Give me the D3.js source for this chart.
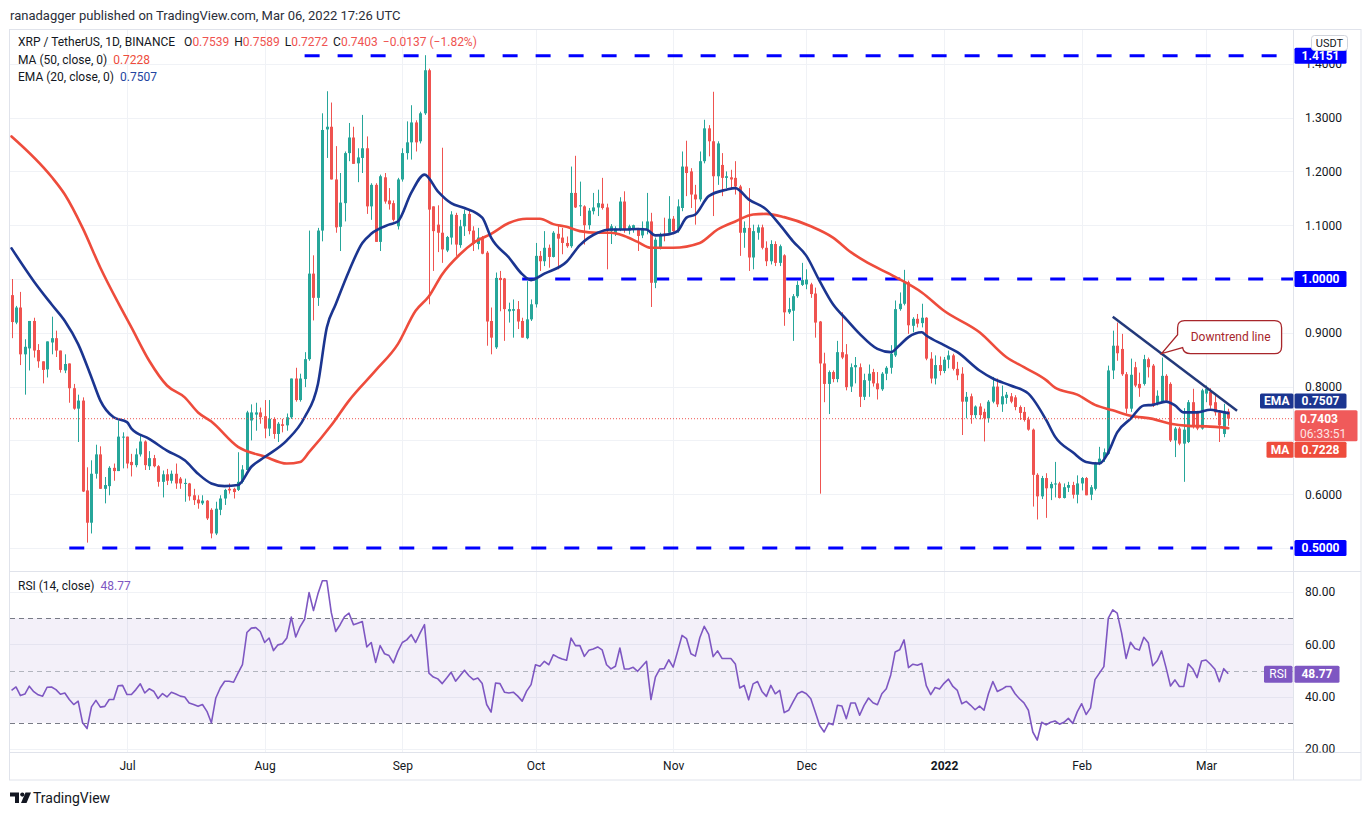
<!DOCTYPE html>
<html>
<head>
<meta charset="utf-8">
<script src="https://cdn.jsdelivr.net/npm/d3@7"></script>
<style>
body{margin:0;background:#fff;}
svg text{font-family:Roboto,"Liberation Sans",sans-serif;}
</style>
</head>
<body>
<svg id="chart" width="1371" height="815"></svg>
<script>
// ---- data (XRP/USDT daily, from 2021-06-05) ----
var startDay = "2021-06-05";
var opens = [0.97,0.919,0.947,0.86,0.871,0.922,0.868,0.847,0.832,0.882,
0.89,0.867,0.83,0.843,0.797,0.759,0.774,0.607,0.547,0.638,
0.674,0.61,0.615,0.649,0.643,0.706,0.707,0.66,0.654,0.674,
0.698,0.652,0.667,0.652,0.623,0.637,0.625,0.638,0.629,0.619,
0.62,0.598,0.59,0.583,0.588,0.571,0.527,0.571,0.592,0.61,
0.61,0.608,0.623,0.645,0.737,0.748,0.752,0.745,0.722,0.74,
0.712,0.73,0.728,0.743,0.815,0.775,0.814,0.851,1.01,0.965,
1.09,1.278,1.283,1.185,1.097,1.141,1.234,1.263,1.215,1.225,
1.243,1.135,1.175,1.069,1.189,1.146,1.141,1.098,1.185,1.234,
1.254,1.291,1.256,1.308,1.388,1.135,1.101,1.086,1.053,1.077,
1.119,1.063,1.098,1.121,1.09,1.065,1.078,1.049,0.922,0.873,
1.002,1.001,0.94,0.941,0.944,0.922,0.89,0.925,0.953,1.043,
1.033,1.058,1.041,1.084,1.077,1.067,1.061,1.16,1.135,1.135,
1.1,1.126,1.133,1.14,1.133,1.089,1.084,1.092,1.144,1.09,
1.092,1.092,1.081,1.092,1.107,0.993,1.058,1.084,1.086,1.112,
1.089,1.132,1.209,1.2,1.157,1.148,1.219,1.28,1.256,1.191,
1.212,1.188,1.189,1.188,1.172,1.086,1.095,1.04,1.086,1.096,
1.058,1.033,1.065,1.03,1.044,0.938,0.941,0.968,0.989,0.99,
0.99,0.973,0.921,0.843,0.805,0.827,0.814,0.864,0.86,0.8,
0.836,0.836,0.781,0.811,0.827,0.806,0.795,0.824,0.835,0.858,
0.944,0.954,0.994,0.913,0.926,0.918,0.928,0.852,0.815,0.84,
0.829,0.85,0.858,0.833,0.824,0.772,0.782,0.747,0.763,0.753,
0.741,0.772,0.8,0.767,0.779,0.782,0.78,0.762,0.753,0.739,
0.72,0.636,0.596,0.63,0.611,0.618,0.62,0.593,0.612,0.617,
0.599,0.62,0.63,0.599,0.61,0.657,0.666,0.675,0.83,0.876,
0.87,0.823,0.759,0.836,0.805,0.805,0.851,0.839,0.768,0.772,
0.82,0.805,0.70,0.722,0.694,0.697,0.771,0.752,0.722,0.787,
0.79,0.771,0.752,0.712,0.7539];
var highs = [1.00,0.95,0.976,0.888,0.922,0.928,0.879,0.847,0.884,0.93,
0.904,0.867,0.86,0.843,0.805,0.785,0.78,0.65,0.663,0.692,
0.689,0.632,0.652,0.657,0.737,0.715,0.707,0.675,0.685,0.71,
0.70,0.68,0.673,0.654,0.644,0.647,0.644,0.657,0.632,0.629,
0.621,0.61,0.598,0.598,0.589,0.574,0.586,0.598,0.61,0.62,
0.612,0.678,0.654,0.755,0.767,0.77,0.761,0.775,0.775,0.743,
0.734,0.74,0.75,0.815,0.835,0.824,0.864,1.09,1.044,1.095,
1.308,1.349,1.328,1.247,1.197,1.237,1.29,1.283,1.243,1.305,
1.265,1.178,1.178,1.194,1.197,1.169,1.146,1.188,1.243,1.293,
1.323,1.295,1.311,1.416,1.391,1.135,1.137,1.244,1.08,1.126,
1.123,1.11,1.129,1.129,1.098,1.095,1.08,1.052,0.947,1.012,
1.015,1.002,0.956,0.962,0.959,0.928,0.996,0.962,1.067,1.052,
1.089,1.064,1.089,1.101,1.095,1.079,1.209,1.229,1.181,1.137,
1.132,1.16,1.166,1.188,1.14,1.102,1.098,1.152,1.163,1.101,
1.101,1.095,1.107,1.16,1.123,1.077,1.086,1.114,1.154,1.117,
1.148,1.237,1.257,1.206,1.175,1.237,1.296,1.286,1.348,1.256,
1.234,1.2,1.203,1.219,1.175,1.107,1.169,1.101,1.101,1.101,
1.07,1.072,1.07,1.064,1.046,0.965,0.972,0.996,1.03,1.018,
0.993,0.984,0.922,0.863,0.83,0.83,0.885,0.938,0.879,0.843,
0.855,0.843,0.824,0.841,0.833,0.827,0.827,0.838,0.877,0.96,
0.975,1.017,0.997,0.929,0.935,0.954,0.929,0.864,0.858,0.856,
0.855,0.867,0.861,0.846,0.836,0.79,0.787,0.765,0.769,0.759,
0.775,0.818,0.815,0.802,0.79,0.788,0.784,0.765,0.762,0.744,
0.722,0.639,0.634,0.639,0.623,0.66,0.623,0.62,0.623,0.623,
0.635,0.632,0.632,0.617,0.66,0.688,0.685,0.839,0.904,0.919,
0.898,0.827,0.852,0.846,0.826,0.859,0.854,0.842,0.793,0.854,
0.823,0.808,0.725,0.725,0.76,0.775,0.796,0.755,0.796,0.802,
0.797,0.787,0.755,0.768,0.7589];
var lows = [0.89,0.916,0.84,0.785,0.83,0.854,0.835,0.806,0.817,0.86,
0.855,0.826,0.825,0.77,0.757,0.697,0.604,0.51,0.527,0.629,
0.61,0.583,0.598,0.625,0.643,0.648,0.648,0.633,0.65,0.67,
0.645,0.645,0.65,0.614,0.594,0.617,0.62,0.61,0.61,0.586,
0.588,0.58,0.573,0.58,0.552,0.518,0.524,0.561,0.58,0.601,
0.592,0.606,0.62,0.645,0.70,0.718,0.731,0.704,0.708,0.703,
0.697,0.715,0.718,0.74,0.772,0.772,0.799,0.848,0.923,0.95,
1.07,1.225,1.185,1.086,1.052,1.107,1.219,1.214,1.18,1.197,
1.121,1.11,1.069,1.052,1.14,1.129,1.107,1.092,1.181,1.222,
1.222,1.237,1.252,1.305,0.953,1.015,1.05,1.03,1.05,1.064,
1.043,1.058,1.08,1.083,1.052,1.055,1.046,0.876,0.86,0.87,
0.94,0.885,0.919,0.891,0.907,0.891,0.888,0.922,0.947,1.015,
1.024,1.021,1.04,1.018,1.046,1.058,1.058,1.132,1.117,1.064,
1.092,1.12,1.117,1.129,1.018,1.065,1.08,1.089,1.086,1.083,
1.086,1.052,1.076,1.083,0.948,0.983,1.055,1.07,1.083,1.083,
1.086,1.126,1.154,1.132,1.101,1.144,1.215,1.228,1.117,1.175,
1.154,1.169,1.169,1.157,1.043,1.058,1.015,1.018,1.073,1.055,
1.024,1.027,1.024,1.024,0.913,0.935,0.885,0.965,0.987,0.981,
0.965,0.891,0.601,0.771,0.749,0.808,0.808,0.851,0.793,0.79,
0.806,0.762,0.775,0.781,0.8,0.776,0.792,0.812,0.824,0.855,
0.941,0.951,0.898,0.901,0.91,0.91,0.849,0.806,0.804,0.821,
0.825,0.834,0.83,0.812,0.71,0.741,0.731,0.741,0.739,0.698,
0.733,0.769,0.762,0.753,0.768,0.769,0.756,0.738,0.735,0.718,
0.577,0.553,0.591,0.556,0.589,0.594,0.592,0.592,0.604,0.592,
0.583,0.607,0.598,0.589,0.607,0.654,0.66,0.673,0.814,0.848,
0.82,0.75,0.753,0.799,0.781,0.802,0.817,0.762,0.765,0.771,
0.771,0.697,0.669,0.691,0.623,0.695,0.722,0.719,0.72,0.771,
0.759,0.746,0.697,0.706,0.7272];
var closes = [0.92,0.947,0.86,0.874,0.922,0.867,0.847,0.831,0.884,0.89,
0.867,0.831,0.842,0.797,0.759,0.774,0.605,0.547,0.638,0.674,
0.61,0.617,0.649,0.643,0.707,0.707,0.657,0.654,0.674,0.698,
0.654,0.667,0.652,0.623,0.637,0.625,0.638,0.62,0.62,0.621,
0.596,0.589,0.583,0.588,0.555,0.527,0.573,0.592,0.608,0.607,
0.604,0.623,0.646,0.752,0.752,0.752,0.743,0.722,0.74,0.712,
0.731,0.727,0.743,0.815,0.775,0.815,0.851,1.01,0.965,1.09,
1.277,1.283,1.185,1.096,1.142,1.234,1.263,1.214,1.226,1.243,
1.135,1.175,1.069,1.191,1.144,1.139,1.11,1.185,1.234,1.254,
1.291,1.254,1.308,1.388,1.129,1.089,1.086,1.055,1.078,1.12,
1.064,1.098,1.121,1.089,1.065,1.077,1.047,0.921,0.891,1.002,
0.998,0.944,0.944,0.944,0.921,0.891,0.925,0.953,1.043,1.033,
1.058,1.041,1.086,1.075,1.067,1.061,1.16,1.133,1.137,1.1,
1.127,1.133,1.141,1.132,1.092,1.098,1.094,1.144,1.092,1.098,
1.1,1.08,1.095,1.107,0.993,1.073,1.083,1.08,1.112,1.089,
1.135,1.209,1.197,1.157,1.148,1.219,1.28,1.256,1.191,1.252,
1.188,1.191,1.185,1.172,1.086,1.095,1.04,1.089,1.096,1.058,
1.033,1.065,1.03,1.061,0.938,0.944,0.968,0.989,0.998,0.999,
0.972,0.919,0.843,0.805,0.827,0.814,0.864,0.854,0.799,0.836,
0.84,0.781,0.812,0.824,0.806,0.795,0.824,0.835,0.861,0.944,
0.954,0.994,0.914,0.926,0.917,0.928,0.852,0.815,0.84,0.829,
0.85,0.858,0.833,0.821,0.772,0.781,0.747,0.763,0.747,0.741,
0.772,0.8,0.767,0.782,0.785,0.772,0.762,0.751,0.738,0.72,
0.636,0.596,0.63,0.611,0.619,0.62,0.593,0.613,0.617,0.599,
0.62,0.63,0.598,0.613,0.657,0.666,0.678,0.83,0.876,0.862,
0.823,0.759,0.822,0.802,0.797,0.851,0.836,0.765,0.783,0.82,
0.774,0.7,0.722,0.694,0.72,0.771,0.725,0.722,0.793,0.796,
0.765,0.752,0.728,0.754,0.7403];

var rsiValues = [42.4,43.7,40.4,41.0,44.0,41.9,40.7,40.2,43.6,43.7,
42.7,40.9,41.4,38.9,37.0,38.3,30.0,27.8,36.1,38.6,
36.0,36.3,38.9,38.9,44.2,44.3,40.8,40.8,42.7,44.9,
41.4,43.0,42.1,39.3,41.2,39.9,41.7,41.0,40.2,39.9,
37.6,37.0,36.3,37.0,34.4,30.0,39.5,43.3,45.9,45.9,
45.5,49.0,52.2,64.5,66.2,66.4,64.9,60.7,62.4,57.6,
59.8,60.2,62.4,70.4,62.8,66.8,69.6,79.8,72.9,79.3,
84.3,84.3,72.2,64.9,67.5,70.6,71.9,67.5,68.1,68.7,
59.0,60.7,53.1,59.5,56.4,55.7,52.9,57.3,60.7,61.7,
63.7,60.7,64.3,67.5,49.0,47.5,46.8,45.0,47.1,49.3,
45.9,48.0,50.1,48.0,46.5,47.1,45.0,37.0,34.1,45.2,
45.0,41.7,41.4,41.7,40.2,38.3,42.1,44.6,52.2,51.6,
53.5,52.2,56.0,55.1,54.4,53.9,62.4,59.5,59.5,55.4,
57.7,58.2,59.0,57.9,52.2,50.6,
51.6,58.6,50.6,50.6,51.2,49.7,51.6,53.5,38.9,47.5,
50.6,50.7,54.1,51.3,57.3,63.4,62.2,56.4,55.5,62.5,
66.9,63.8,55.3,57.5,54.6,54.6,54.6,52.5,43.3,44.3,
38.8,44.9,45.8,42.0,40.1,44.3,41.1,42.4,33.9,34.8,
38.0,41.1,42.0,41.1,39.2,34.1,29.0,26.5,29.9,29.3,
36.7,36.4,31.6,37.6,37.6,32.9,36.7,39.5,37.7,36.9,
41.1,43.0,48.3,57.1,57.9,61.7,51.1,52.4,52.0,52.7,
44.2,40.8,43.5,42.9,45.1,46.7,43.9,42.4,37.3,38.2,
36.7,35.0,36.4,34.8,41.1,45.8,42.0,42.8,43.9,43.9,
41.1,39.2,37.6,34.8,26.5,23.4,30.2,29.2,30.2,30.7,
29.5,30.2,31.7,29.8,34.2,37.3,33.2,35.7,46.5,49.0,
51.5,70.0,73.2,71.9,64.3,54.6,60.8,58.4,57.8,62.7,
60.6,51.8,53.7,57.5,51.1,44.1,46.4,43.9,43.9,52.6,
50.7,47.3,53.6,54.0,52.4,50.5,45.7,50.7,48.77];

// moving averages, sampled (day index from startDay, value)
var maDays = [0,9,12,16,20,24,27,31,35,39,42,45,51,57,62,65,67,72,76,82,87,91,94,97,101,104,108,112,116,119,
122,125,128,132,135,138,141,144,149,155,159,163,167,170,174,180,185,189,192,199,205,210,218,224,228,233,235,240,244,248,
252,257,261,265,269,274];
var maValues = [1.265,1.19,1.157,1.095,1.021,0.956,0.91,0.848,0.802,0.78,0.752,0.735,0.688,0.67,0.657,0.66,0.678,0.728,0.774,0.83,
0.879,0.941,0.968,1.009,1.046,1.067,1.084,1.104,1.112,1.112,1.102,1.097,1.089,1.086,1.086,1.08,1.069,1.058,1.058,1.067,
1.092,1.107,1.12,1.121,1.115,1.098,1.077,1.05,1.034,1.004,0.975,0.941,0.901,0.855,0.836,0.812,0.798,0.785,0.766,0.756,
0.746,0.74,0.731,0.727,0.726,0.7228];
var emaDays = [0,5,9,12,15,18,20,23,26,27,31,35,39,42,45,48,51,54,57,62,66,69,71,73,76,79,81,85,87,90,
93,96,99,102,106,108,112,115,117,120,125,128,132,135,138,141,143,145,148,150,152,154,157,161,163,166,170,173,176,179,
182,185,188,191,195,198,200,202,205,206,210,213,218,221,225,229,233,235,239,242,245,247,249,252,255,257,260,262,264,267,
270,272,274];
var emaValues = [1.057,0.996,0.953,0.922,0.879,0.817,0.774,0.743,0.734,0.722,0.703,0.681,0.663,0.638,0.62,0.615,0.617,0.651,0.669,0.70,
0.743,0.805,0.91,0.953,1.015,1.067,1.084,1.101,1.107,1.16,1.194,1.163,1.141,1.132,1.114,1.077,1.04,1.009,0.998,1.01,
1.032,1.063,1.086,1.092,1.092,1.093,1.092,1.081,1.083,1.089,1.114,1.12,1.154,1.166,1.169,1.148,1.129,1.101,1.07,1.043,
0.996,0.953,0.925,0.898,0.87,0.864,0.877,0.892,0.901,0.895,0.877,0.864,0.83,0.815,0.802,0.787,0.738,0.707,0.678,0.66,
0.657,0.678,0.715,0.74,0.765,0.766,0.772,0.765,0.752,0.752,0.757,0.754,0.7507];

var levelPrices = [1.4151, 1.0, 0.5];
var levelStarts = ["2021-08-10", "2021-09-28", "2021-06-18"];
var trendDates = ["2022-02-08", "2022-03-08"];
var trendPrices = [0.93, 0.755];
var calloutDate = "2022-02-19";
var gridPrices = [0.5,0.6,0.7,0.8,0.9,1.0,1.1,1.2,1.3,1.4];
var priceTicks = [0.6,0.8,0.9,1.1,1.2,1.3,1.4];
var rsiTicks = [20,40,60,80];
var monthTicks = ["2021-07-01","2021-08-01","2021-09-01","2021-10-01","2021-11-01","2021-12-01","2022-01-01","2022-02-01","2022-03-01"];
var monthLabels = ["Jul","Aug","Sep","Oct","Nov","Dec","2022","Feb","Mar"];

// ---- layout ----
var padL = 10, padR = 1293, padT = 30, split = 571.5, timeTop = 752.5, padB = 780, outerR = 1361;
var green = "#26a69a", red = "#ef5350", maColor = "#ee4c3c", emaColor = "#1b3590", blue = "#0000ff", purple = "#7e57c2";

var parse = d3.utcParse("%Y-%m-%d");
var day0 = parse(startDay);
function dayAt(i){ return d3.utcDay.offset(day0, i); }

var x = d3.scaleUtc().domain([parse("2021-07-01"), parse("2022-03-01")]).range([127, 1206]);
var y = d3.scaleLinear().domain([0.5, 1.0]).range([548, 279]);
var yr = d3.scaleLinear().domain([20, 80]).range([749, 592]);

var svg = d3.select("#chart");
var defs = svg.append("defs");
defs.append("clipPath").attr("id","clipMain").append("rect")
    .attr("x",padL).attr("y",padT).attr("width",padR-padL).attr("height",split-padT);
defs.append("clipPath").attr("id","clipRsi").append("rect")
    .attr("x",padL).attr("y",split).attr("width",padR-padL).attr("height",timeTop-split);
defs.append("clipPath").attr("id","clipRsiAxis").append("rect")
    .attr("x",padR).attr("y",split).attr("width",outerR-padR).attr("height",timeTop-split);

// header
svg.append("text").attr("x",10).attr("y",19.5)
    .attr("font-size","13px").attr("fill","#2a2e39")
    .text("ranadagger published on TradingView.com, Mar 06, 2022 17:26 UTC");

// grid
var grid = svg.append("g").attr("stroke","#f0f2f6").attr("stroke-width",1);
grid.selectAll(".hg").data(gridPrices).enter().append("line")
    .attr("x1",padL).attr("x2",padR)
    .attr("y1",function(d){return Math.round(y(d))+0.5;})
    .attr("y2",function(d){return Math.round(y(d))+0.5;});
grid.selectAll(".rg").data(rsiTicks).enter().append("line")
    .attr("x1",padL).attr("x2",padR)
    .attr("y1",function(d){return Math.round(yr(d))+0.5;})
    .attr("y2",function(d){return Math.round(yr(d))+0.5;});
grid.selectAll(".vg").data(monthTicks).enter().append("line")
    .attr("x1",function(d){return Math.round(x(parse(d)))+0.5;})
    .attr("x2",function(d){return Math.round(x(parse(d)))+0.5;})
    .attr("y1",padT).attr("y2",timeTop);

// RSI band and guide lines
var rsiG = svg.append("g").attr("clip-path","url(#clipRsi)");
rsiG.append("rect").attr("x",padL).attr("width",padR-padL)
    .attr("y",yr(70)).attr("height",yr(30)-yr(70))
    .attr("fill",purple).attr("fill-opacity",0.09);
rsiG.selectAll(".rl").data([70,50,30]).enter().append("line")
    .attr("x1",padL).attr("x2",padR)
    .attr("y1",function(d){return Math.round(yr(d))+0.5;})
    .attr("y2",function(d){return Math.round(yr(d))+0.5;})
    .attr("stroke",function(d){return d===50 ? "#b2b5be" : "#787b86";})
    .attr("stroke-dasharray","5,4");
rsiG.append("path")
    .datum(rsiValues)
    .attr("fill","none").attr("stroke",purple).attr("stroke-width",1.6)
    .attr("stroke-linejoin","round")
    .attr("d", d3.line()
        .x(function(d,i){return x(dayAt(i));})
        .y(function(d){return yr(d);}));
svg.append("text").attr("x",18).attr("y",590).attr("font-size","12px").attr("fill","#131722")
    .text("RSI (14, close)")
  .append("tspan").attr("dx",6).attr("fill",purple).text(rsiValues[rsiValues.length-1].toFixed(2));

// main pane
var main = svg.append("g").attr("clip-path","url(#clipMain)");

// horizontal blue levels
main.selectAll(".lvl").data(levelPrices).enter().append("line")
    .attr("x1",function(d,i){return x(parse(levelStarts[i]));})
    .attr("x2",padR)
    .attr("y1",function(d){return y(d);}).attr("y2",function(d){return y(d);})
    .attr("stroke",blue).attr("stroke-width",3).attr("stroke-dasharray","15,18");

// candles
var candles = opens.map(function(o,i){
    return {date: dayAt(i), o: o, h: highs[i], l: lows[i], c: closes[i]};
});
var cg = main.selectAll(".candle").data(candles).enter().append("g")
    .attr("fill",function(d){return d.c >= d.o ? green : red;})
    .attr("stroke",function(d){return d.c >= d.o ? green : red;});
cg.append("line")
    .attr("x1",function(d){return Math.round(x(d.date))+0.5;})
    .attr("x2",function(d){return Math.round(x(d.date))+0.5;})
    .attr("y1",function(d){return y(d.h);})
    .attr("y2",function(d){return y(d.l);})
    .attr("stroke-width",1);
cg.append("rect")
    .attr("stroke","none")
    .attr("x",function(d){return Math.round(x(d.date))-1;})
    .attr("width",3)
    .attr("y",function(d){return y(Math.max(d.o,d.c));})
    .attr("height",function(d){return Math.max(1, Math.abs(y(d.o)-y(d.c)));});

// moving averages
var avgLine = d3.line()
    .x(function(d){return x(dayAt(d[0]));})
    .y(function(d){return y(d[1]);})
    .curve(d3.curveMonotoneX);
main.append("path")
    .datum(maDays.map(function(d,i){return [d, maValues[i]];}))
    .attr("fill","none").attr("stroke",maColor).attr("stroke-width",2.6)
    .attr("stroke-linecap","round").attr("d",avgLine);
main.append("path")
    .datum(emaDays.map(function(d,i){return [d, emaValues[i]];}))
    .attr("fill","none").attr("stroke",emaColor).attr("stroke-width",2.6)
    .attr("stroke-linecap","round").attr("d",avgLine);

// current price dotted line
var lastClose = closes[closes.length-1];
main.append("line").attr("x1",padL).attr("x2",padR)
    .attr("y1",y(lastClose)).attr("y2",y(lastClose))
    .attr("stroke",red).attr("stroke-width",1).attr("stroke-dasharray","1,2");

// downtrend line and callout
var trendScale = d3.scaleUtc().domain(trendDates.map(parse)).range(trendPrices);
main.append("line")
    .attr("x1",x(parse(trendDates[0]))).attr("y1",y(trendPrices[0]))
    .attr("x2",x(parse(trendDates[1]))).attr("y2",y(trendPrices[1]))
    .attr("stroke","#23397a").attr("stroke-width",2.5);
var tipX = x(parse(calloutDate)), tipY = y(trendScale(parse(calloutDate)));
var bx = tipX + 16, by = tipY - 33, bw = 104, bh = 33;
var callout = d3.path();
callout.moveTo(bx+7, by);
callout.lineTo(bx+bw-7, by);
callout.quadraticCurveTo(bx+bw, by, bx+bw, by+7);
callout.lineTo(bx+bw, by+bh-7);
callout.quadraticCurveTo(bx+bw, by+bh, bx+bw-7, by+bh);
callout.lineTo(bx+13, by+bh);
callout.quadraticCurveTo(bx+6, by+bh, bx+5, by+bh-6);
callout.lineTo(tipX, tipY);
callout.lineTo(bx, by+14);
callout.lineTo(bx, by+7);
callout.quadraticCurveTo(bx, by, bx+7, by);
callout.closePath();
svg.append("path").attr("d",callout.toString())
    .attr("fill","#fff").attr("stroke","#a8262b").attr("stroke-width",1.3);
svg.append("text").attr("x",bx+bw/2+1).attr("y",by+bh/2+4)
    .attr("text-anchor","middle").attr("font-size","12px").attr("fill","#a8262b")
    .text("Downtrend line");

// legend
var lg = svg.append("g").attr("font-size","12px").attr("fill","#131722");
var l1 = lg.append("text").attr("x",18).attr("y",46);
l1.append("tspan").text("XRP / TetherUS, 1D, BINANCE");
var n = closes.length-1;
var chg = closes[n] - closes[n-1];
var parts = [["O",opens[n]],["H",highs[n]],["L",lows[n]],["C",closes[n]]];
parts.forEach(function(p,i){
    l1.append("tspan").attr("dx", i===0 ? 9 : 5).text(p[0]);
    l1.append("tspan").attr("fill",red).text(p[1].toFixed(4));
});
l1.append("tspan").attr("dx",5).attr("fill",red)
    .text(d3.format(".4f")(chg).replace("-","\u2212") + " (" + d3.format(".2f")(chg/closes[n-1]*100).replace("-","\u2212") + "%)");
var l2 = lg.append("text").attr("x",18).attr("y",63.5);
l2.append("tspan").text("MA (50, close, 0)");
l2.append("tspan").attr("dx",6).attr("fill",maColor).text(maValues[maValues.length-1].toFixed(4));
var l3 = lg.append("text").attr("x",18).attr("y",81);
l3.append("tspan").text("EMA (20, close, 0)");
l3.append("tspan").attr("dx",6).attr("fill","#2344a0").text(emaValues[emaValues.length-1].toFixed(4));

// frame
var fr = svg.append("g").attr("stroke","#e0e3eb").attr("stroke-width",1).attr("fill","none");
fr.append("rect").attr("x",9.5).attr("y",29.5).attr("width",outerR-9.5).attr("height",padB-29.5);
fr.append("line").attr("x1",padR+0.5).attr("x2",padR+0.5).attr("y1",29.5).attr("y2",padB);
fr.append("line").attr("x1",9.5).attr("x2",outerR).attr("y1",split).attr("y2",split);
fr.append("line").attr("x1",9.5).attr("x2",outerR).attr("y1",timeTop).attr("y2",timeTop);

// price axis
var pAxis = svg.append("g").attr("transform","translate(" + padR + ",0)")
    .call(d3.axisRight(y).tickValues(priceTicks).tickFormat(d3.format(".4f")).tickSize(0).tickPadding(12));
pAxis.select(".domain").remove();
pAxis.selectAll("text").attr("font-size","12px").attr("fill","#131722").attr("font-family",null);

// RSI axis
var rAxis = svg.append("g").attr("clip-path","url(#clipRsiAxis)")
  .append("g").attr("transform","translate(" + padR + ",0)")
    .call(d3.axisRight(yr).tickValues(rsiTicks).tickFormat(d3.format(".2f")).tickSize(0).tickPadding(12));
rAxis.select(".domain").remove();
rAxis.selectAll("text").attr("font-size","12px").attr("fill","#131722").attr("font-family",null);

// time axis
var tAxis = svg.append("g").attr("transform","translate(0," + timeTop + ")")
    .call(d3.axisBottom(x).tickValues(monthTicks.map(parse))
        .tickFormat(function(d,i){return monthLabels[i];}).tickSize(0).tickPadding(9));
tAxis.select(".domain").remove();
tAxis.selectAll("text").attr("font-size","12px").attr("fill","#131722").attr("font-family",null)
    .attr("font-weight",function(d,i){return monthLabels[i]==="2022" ? "bold" : null;});

// right-side label boxes
function tag(x0, yc, w, h, fill, label, bold){
    svg.append("rect").attr("x",x0).attr("y",yc-h/2).attr("width",w).attr("height",h)
        .attr("rx",1.5).attr("fill",fill);
    svg.append("text").attr("x",x0+w/2).attr("y",yc+4.2).attr("text-anchor","middle")
        .attr("font-size","12px").attr("font-weight",bold ? "bold" : null).attr("fill","#fff").text(label);
}
levelPrices.forEach(function(p){ tag(padR+1.5, y(p), 52, 16, blue, p.toFixed(4), true); });

// USDT badge
svg.append("rect").attr("x",1311.5).attr("y",35.5).attr("width",36).attr("height",15).attr("rx",3)
    .attr("fill","#fff").attr("stroke","#d1d4dc");
svg.append("text").attr("x",1329.5).attr("y",47).attr("text-anchor","middle").attr("font-size","11px")
    .attr("fill","#131722").text("USDT");

var emaLast = emaValues[emaValues.length-1], maLast = maValues[maValues.length-1];
tag(1260, y(emaLast)-12, 33.5, 15, emaColor, "EMA", true);
tag(padR+1.5, y(emaLast)-12, 52, 15, emaColor, emaLast.toFixed(4), true);
// current price with countdown
svg.append("rect").attr("x",padR+1.5).attr("y",y(lastClose)-8.5).attr("width",63).attr("height",31)
    .attr("rx",1.5).attr("fill","#f05a5a");
svg.append("text").attr("x",padR+7).attr("y",y(lastClose)+4.5).attr("font-size","12px")
    .attr("font-weight","bold").attr("fill","#fff").text(lastClose.toFixed(4));
svg.append("text").attr("x",padR+7).attr("y",y(lastClose)+19).attr("font-size","12px")
    .attr("fill","#fde3e3").text("06:33:51");
tag(1266.5, y(maLast)+21.5, 27, 16, maColor, "MA", true);
tag(padR+1.5, y(maLast)+21.5, 52, 16, maColor, maLast.toFixed(4), true);
var rsiLast = rsiValues[rsiValues.length-1];
tag(1264, yr(rsiLast)+0.5, 28.5, 17, purple, "RSI", false);
tag(padR+1.5, yr(rsiLast)+0.5, 45, 17, purple, rsiLast.toFixed(2), true);

// footer logo
var logo = svg.append("g").attr("fill","#131722");
logo.append("path").attr("d","M10,792.5 H19 V803 H15 V796.5 H10 Z");
logo.append("circle").attr("cx",22.3).attr("cy",794.6).attr("r",2.1);
logo.append("path").attr("d","M25.5,792.5 H31 L26.5,803 H21 Z");
svg.append("text").attr("x",33).attr("y",802.5).attr("font-size","14px").attr("fill","#131722")
    .text("TradingView");
</script>
</body>
</html>
